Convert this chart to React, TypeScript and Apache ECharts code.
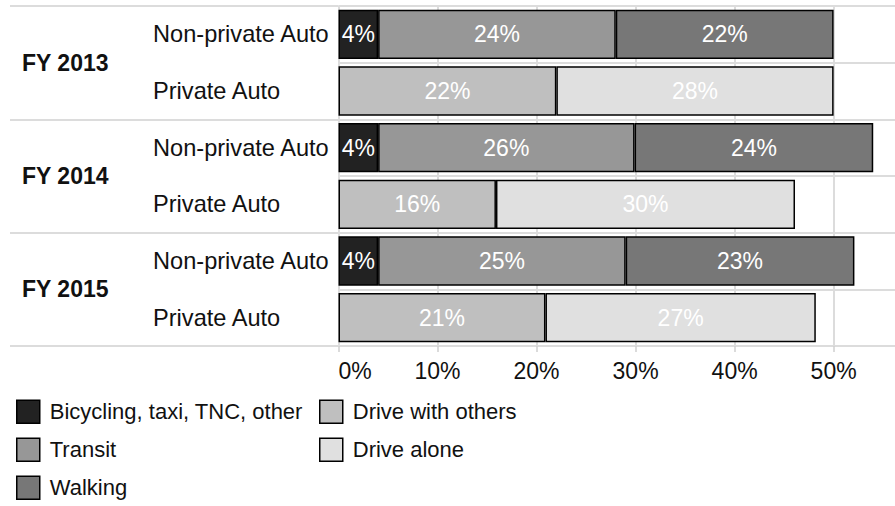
import React, { useEffect, useRef } from "react";
import * as echarts from "echarts";

const years = ["FY 2013", "FY 2014", "FY 2015"];
const modes = ["Non-private Auto", "Private Auto"];
// rows: 2013 NP, 2013 P, 2014 NP, 2014 P, 2015 NP, 2015 P
const bicycling = [4.0, null, 4.0, null, 4.0, null];
const transit = [24.0, null, 25.9, null, 25.0, null];
const walking = [22.0, null, 24.1, null, 23.1, null];
const driveOthers = [null, 22.0, null, 15.9, null, 20.9];
const driveAlone = [null, 28.0, null, 30.2, null, 27.3];
const xTicks = [0, 10, 20, 30, 40, 50];

const seriesNames = [
  "Bicycling, taxi, TNC, other",
  "Transit",
  "Walking",
  "Drive with others",
  "Drive alone",
];
const seriesData = [bicycling, transit, walking, driveOthers, driveAlone];
const seriesColors = ["#222222", "#979797", "#777777", "#bfbfbf", "#e0e0e0"];

const FONT = "'Liberation Sans', Arial, sans-serif";

export default function App() {
  const ref = useRef<HTMLDivElement>(null);
  useEffect(() => {
    if (!ref.current) return;
    const chart = echarts.init(ref.current, null, { renderer: "svg" });
    const rowCategories: string[] = [];
    years.forEach((y) => modes.forEach((m) => rowCategories.push(y + "|" + m)));
    const gridColor = "#dcdcdc";
    const legendBase = {
      orient: "vertical",
      top: 399.5,
      padding: 0,
      itemWidth: 23,
      itemHeight: 23,
      itemGap: 13.5,
      icon: "rect",
      itemStyle: { borderColor: "#000", borderWidth: 1.5 },
      textStyle: { fontSize: 22, color: "#111", fontFamily: FONT, padding: [0, 0, 0, 5] },
      selectedMode: false,
    };
    chart.setOption({
      animation: false,
      backgroundColor: "#ffffff",
      textStyle: { fontFamily: FONT },
      grid: {
        left: 338.5,
        right: -2,
        top: 6,
        bottom: 160,
        containLabel: false,
        outerBoundsMode: "none",
      },
      xAxis: {
        type: "value",
        min: 0,
        max: 56.4,
        interval: 10,
        axisLine: { show: false },
        axisTick: { show: true, length: 6, lineStyle: { color: "#cfcfcf", width: 1.5 } },
        axisLabel: {
          fontSize: 23,
          color: "#111",
          fontFamily: FONT,
          margin: 13,
          alignMinLabel: "left",
          formatter: (v: number) => (xTicks.includes(v) ? v + "%" : ""),
        },
        splitLine: { show: true, lineStyle: { color: gridColor, width: 2 } },
      },
      yAxis: [
        {
          type: "category",
          data: rowCategories,
          inverse: true,
          position: "left",
          axisLine: { show: false },
          axisTick: { show: false },
          axisLabel: {
            interval: 0,
            align: "left",
            margin: 185.5,
            fontSize: 23.6,
            color: "#111",
            fontFamily: FONT,
            formatter: (v: string) => v.split("|")[1],
          },
          splitLine: { show: true, interval: 0, lineStyle: { color: gridColor, width: 2 } },
        },
        {
          type: "category",
          data: years,
          inverse: true,
          position: "left",
          axisLine: { show: false },
          axisTick: {
            show: true,
            interval: 0,
            length: 328.5,
            lineStyle: { color: gridColor, width: 2 },
          },
          axisLabel: {
            interval: 0,
            align: "left",
            margin: 316.5,
            fontSize: 23,
            fontWeight: "bold",
            color: "#111",
            fontFamily: FONT,
          },
          splitLine: { show: false },
        },
      ],
      legend: [
        { ...legendBase, data: seriesNames.slice(0, 3), left: 16 },
        { ...legendBase, data: seriesNames.slice(3), left: 319 },
      ],
      series: seriesNames.map((name, i) => ({
        name,
        type: "bar",
        stack: "total",
        yAxisIndex: 0,
        barWidth: "87%",
        data: seriesData[i],
        itemStyle: { color: seriesColors[i], borderColor: "#000", borderWidth: 1.5 },
        label: {
          show: true,
          position: "inside",
          color: "#ffffff",
          fontSize: 23,
          fontFamily: FONT,
          textBorderWidth: 0,
          formatter: (p: any) => (p.value == null ? "" : Math.round(p.value) + "%"),
        },
        emphasis: { disabled: true },
      })),
    });
    return () => chart.dispose();
  }, []);
  return (
    <div
      ref={ref}
      style={{ position: "fixed", left: 0, top: 0, width: 895, height: 506 }}
    />
  );
}
